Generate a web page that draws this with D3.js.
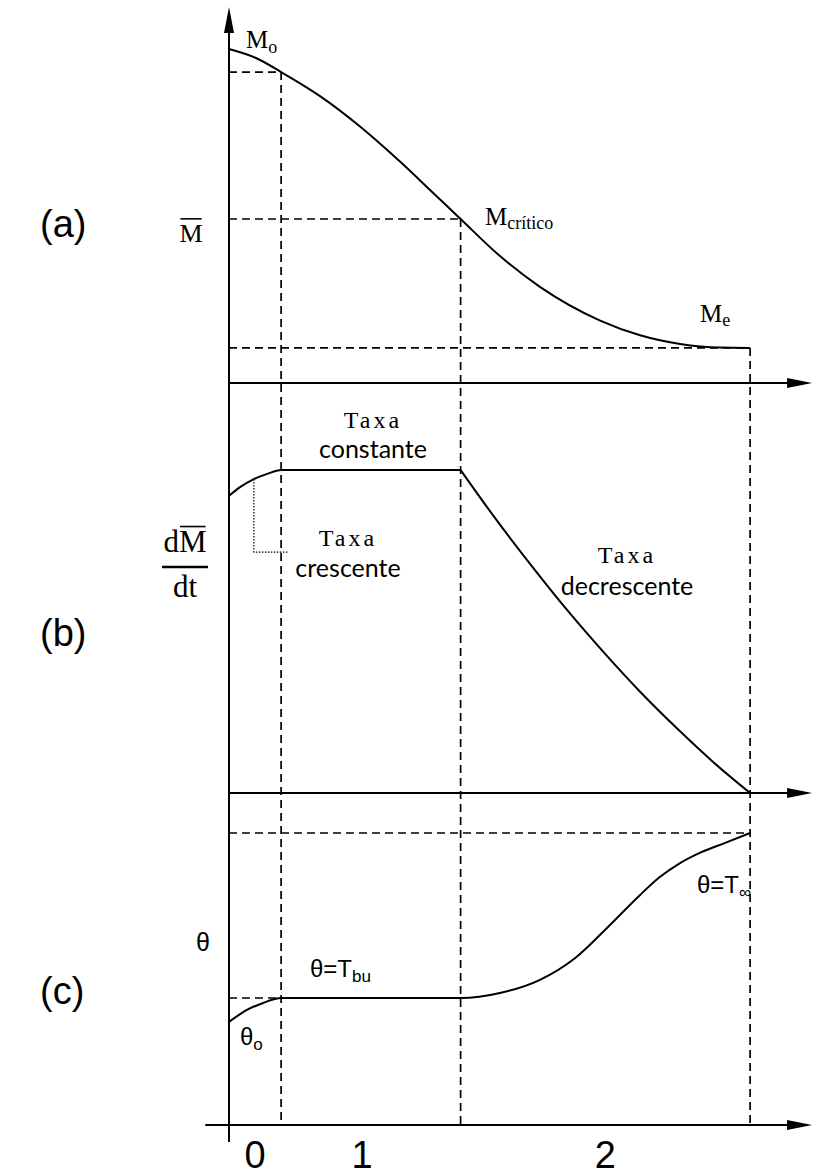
<!DOCTYPE html>
<html>
<head>
<meta charset="utf-8">
<script src="https://cdn.jsdelivr.net/npm/d3@7"></script>
<style>
  body { margin: 0; background: #fff; }
  svg { display: block; }
</style>
</head>
<body>
<svg id="chart" width="816" height="1175"></svg>
<script>
// Phase boundaries on the time axis: end of warm-up, critical point, equilibrium
const phaseTimes = [0.9, 4.0, 9.0];
const periodLabels = ["0", "1", "2"];
const periodCenters = [0.45, 2.3, 6.5];

// (a) moisture content over time
const moistTime  = [0, 0.466, 0.9, 1.572, 2.263, 2.953, 3.472, 4.0, 4.68, 5.37, 6.41, 7.10, 7.79, 8.48, 9.0];
const moistValue = [100, 97.3, 93.1, 85.9, 76.8, 66.3, 57.8, 49.1, 38.0, 28.8, 18.7, 14.3, 11.7, 10.6, 10.5];

// (b) drying rate: warm-up + constant period, then falling period
const rateRiseTime  = [0, 0.19, 0.43, 0.66, 0.9, 4.0];
const rateRiseValue = [92, 94.7, 97.2, 98.8, 100, 100];
const rateFallTime  = [4.0, 4.625, 5.25, 5.875, 6.5, 7.125, 7.75, 8.375, 9.0];
const rateFallValue = [100, 84.4, 69.8, 55.9, 43.0, 30.9, 19.8, 9.4, 0];

// (c) product temperature
const tempTime  = [0, 0.31, 0.59, 0.9, 4.0, 4.68, 5.37, 5.98, 6.58, 7.10, 7.44, 7.79, 8.13, 8.57, 9.0];
const tempValue = [35.3, 39.4, 41.8, 43.5, 43.5, 45.2, 49.7, 57.2, 68.5, 78.8, 84.9, 89.7, 93.2, 96.6, 100];

const svg = d3.select("#chart");
svg.append("rect").attr("width", 816).attr("height", 1175).attr("fill", "#fff");

const x  = d3.scaleLinear().domain([0, 10]).range([229, 808]);
const yA = d3.scaleLinear().domain([0, 100]).range([383, 49]);
const yB = d3.scaleLinear().domain([0, 100]).range([793, 470]);
const yC = d3.scaleLinear().domain([0, 100]).range([1125, 833]);

const axisEnd = 10.07;
const serif = "'Liberation Serif', 'Times New Roman', serif";
const sans  = "'Liberation Sans', Arial, Helvetica, sans-serif";
const human = "Lato, 'Open Sans', sans-serif";

const zip = (ts, vs) => ts.map((t, i) => [t, vs[i]]);
const valueAt = (ts, vs, t) => vs[ts.indexOf(t)];

// ---- dashed guide lines ----
const guides = svg.append("g")
  .attr("stroke", "#000").attr("stroke-width", 1.7)
  .attr("stroke-dasharray", "8,5").attr("fill", "none");

phaseTimes.forEach(t => {
  const m = valueAt(moistTime, moistValue, t);
  guides.append("line")
    .attr("x1", x(0)).attr("x2", x(t)).attr("y1", yA(m)).attr("y2", yA(m));
  guides.append("line")
    .attr("x1", x(t)).attr("x2", x(t)).attr("y1", yA(m)).attr("y2", yC(0));
});
const tBu = valueAt(tempTime, tempValue, phaseTimes[0]);
const tInf = valueAt(tempTime, tempValue, phaseTimes[2]);
guides.append("line")
  .attr("x1", x(0)).attr("x2", x(phaseTimes[0])).attr("y1", yC(tBu)).attr("y2", yC(tBu));
guides.append("line")
  .attr("x1", x(0)).attr("x2", x(phaseTimes[2])).attr("y1", yC(tInf)).attr("y2", yC(tInf));

// dotted bracket in the warm-up zone of (b)
const bracketT = [0.43, 1.02];
const bracketR = [97.2, 74.6];
svg.append("path")
  .attr("d", `M${x(bracketT[0])},${yB(bracketR[0])}V${yB(bracketR[1])}H${x(bracketT[1])}`)
  .attr("fill", "none").attr("stroke", "#000").attr("stroke-width", 1.2)
  .attr("stroke-dasharray", "1.5,1.5");

// ---- axes ----
const axes = svg.append("g").attr("stroke", "#000").attr("stroke-width", 2);
axes.append("line").attr("x1", x(0)).attr("x2", x(0)).attr("y1", 1142).attr("y2", 28);
[yA, yB].forEach(s => {
  axes.append("line").attr("x1", x(0)).attr("x2", x(axisEnd) - 20)
    .attr("y1", s(0)).attr("y2", s(0));
});
axes.append("line").attr("x1", x(-0.41)).attr("x2", x(axisEnd) - 20)
  .attr("y1", yC(0)).attr("y2", yC(0));

const heads = svg.append("g").attr("fill", "#000");
heads.append("path").attr("d", `M${x(0)},7L${x(0) - 5},33L${x(0) + 5},33Z`);
[yA, yB, yC].forEach(s => {
  const tip = x(axisEnd), y0 = s(0);
  heads.append("path").attr("d", `M${tip},${y0}L${tip - 25},${y0 - 5}L${tip - 25},${y0 + 5}Z`);
});

// ---- curves ----
const lineOf = (ys) => d3.line().x(d => x(d[0])).y(d => ys(d[1])).curve(d3.curveMonotoneX);
const curves = svg.append("g").attr("fill", "none").attr("stroke", "#000").attr("stroke-width", 2);
curves.append("path").attr("d", lineOf(yA)(zip(moistTime, moistValue)));
curves.append("path").attr("d", lineOf(yB)(zip(rateRiseTime, rateRiseValue)));
curves.append("path").attr("d", lineOf(yB)(zip(rateFallTime, rateFallValue)));
curves.append("path").attr("d", lineOf(yC)(zip(tempTime, tempValue)));

// ---- labels ----
function label(px, py, parts, opts) {
  const t = svg.append("text").attr("x", px).attr("y", py)
    .attr("font-family", opts.family).attr("font-size", opts.size).attr("fill", "#000")
    .attr("text-anchor", opts.anchor || "start");
  if (opts.spacing) t.attr("letter-spacing", opts.spacing);
  parts.forEach(p => {
    const s = t.append("tspan").text(p.text);
    if (p.sub) s.attr("font-size", p.sub).attr("dy", p.dy || 5);
  });
  return t;
}

// bar drawn over one character of a text element (mean value symbol)
function overbar(textSel, charIndex, baseline, size, gap) {
  const node = textSel.node();
  const x0 = node.getStartPositionOfChar(charIndex).x;
  const x1 = node.getEndPositionOfChar(charIndex).x;
  const yb = baseline - 0.66 * size - gap;
  svg.append("line").attr("x1", x0 + 1).attr("x2", x1 - 1).attr("y1", yb).attr("y2", yb)
    .attr("stroke", "#000").attr("stroke-width", 1.6);
}

// panel letters
[["(a)", 237], ["(b)", 646], ["(c)", 1004]].forEach(([s, py]) =>
  label(40, py, [{ text: s }], { family: sans, size: 38 }));

// (a) moisture labels
label(246, 48, [{ text: "M" }, { text: "o", sub: 18, dy: 5 }], { family: serif, size: 25 });
const mBar = label(191, 242, [{ text: "M" }], { family: serif, size: 26, anchor: "middle" });
overbar(mBar, 0, 242, 26, 6);
label(485, 225, [{ text: "M" }, { text: "crítico", sub: 18, dy: 4 }], { family: serif, size: 25 });
label(700, 322, [{ text: "M" }, { text: "e", sub: 18, dy: 4 }], { family: serif, size: 25 });

// (b) rate labels
const dM = label(185, 552, [{ text: "dM" }], { family: serif, size: 31, anchor: "middle" });
overbar(dM, 1, 552, 31, 5);
svg.append("line").attr("x1", 162).attr("x2", 208).attr("y1", 567).attr("y2", 567)
  .attr("stroke", "#000").attr("stroke-width", 2.5);
label(185, 597, [{ text: "dt" }], { family: serif, size: 31, anchor: "middle" });

const rateNotes = [
  ["Taxa", "constante", 373, 428, 458],
  ["Taxa", "crescente", 348, 546, 577],
  ["Taxa", "decrescente", 627, 563, 595]
];
rateNotes.forEach(([a, b, cx, y1, y2]) => {
  label(cx, y1, [{ text: a }], { family: serif, size: 24, anchor: "middle", spacing: 3 });
  label(cx, y2, [{ text: b }], { family: human, size: 25, anchor: "middle" });
});

// (c) temperature labels
label(196, 951, [{ text: "θ" }], { family: sans, size: 25 });
label(310, 977, [{ text: "θ=T" }, { text: "bu", sub: 17, dy: 5 }], { family: sans, size: 24 });
label(240, 1045, [{ text: "θ" }, { text: "o", sub: 17, dy: 5 }], { family: sans, size: 24 });
label(697, 893, [{ text: "θ=T" }, { text: "∞", sub: 17, dy: 5 }], { family: sans, size: 24 });

// period numbers under the time axis
periodLabels.forEach((s, i) =>
  label(x(periodCenters[i]), 1168, [{ text: s }], { family: sans, size: 38, anchor: "middle" }));
</script>
</body>
</html>
